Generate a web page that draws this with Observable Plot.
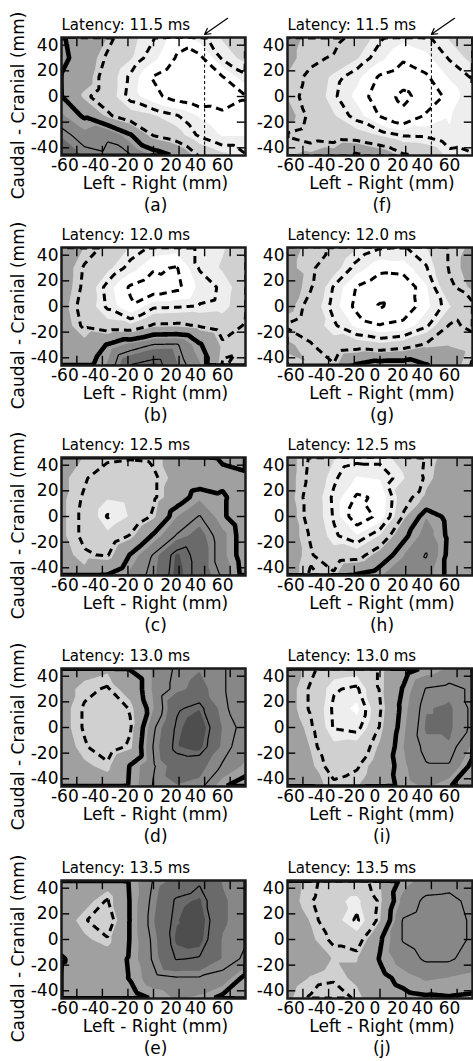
<!DOCTYPE html>
<html><head><meta charset="utf-8">
<script src="https://cdn.jsdelivr.net/npm/d3@7"></script>
<script src="https://cdn.jsdelivr.net/npm/@observablehq/plot@0.6"></script>
<style>
body{margin:0;background:#fff;}
#fig{position:relative;width:473px;height:1061px;overflow:hidden;font-family:"DejaVu Sans",sans-serif;}
#fig svg{position:absolute;overflow:visible;}
</style></head><body><div id="fig"></div>
<script>
// grid of electrode positions (mm)
const xGrid = [-72, -54, -36, -18, 0, 18, 36, 54, 72];
const yGrid = [46, 30, 15, 0, -15, -30, -46];
const xTicks = [-60, -40, -20, 0, 20, 40, 60];
const yTicks = [-40, -20, 0, 20, 40];
const latencies = ["11.5", "12.0", "12.5", "13.0", "13.5"];
const lettersLeft = ["a", "b", "c", "d", "e"];
const lettersRight = ["f", "g", "h", "i", "j"];
const negLevels = [-4, -3, -2, -1];
const zeroLevel = [0];
const posLevels = [1, 2, 3];
const fillThresholds = [-10, -2.45, -1.65, -0.78, 0.42, 1.33, 2.23];
const fillGrays = ["#ffffff", "#eeeeee", "#d0d0d0", "#a0a0a0", "#878787", "#6a6a6a", "#4e4e4e"];
const markerX = [40];
const arrowSeg = [{x1: 58, y1: 61, x2: 40, y2: 48.5}];

// field values (rows: y = 46 ... -46, cols: x = -72 ... 72)
const panelA = [
 [ 0.1, -0.5, -0.8, -1.5, -1.95, -2.8, -2.2, -1.6, -1.3],
 [ 0.2, -0.4, -1.1, -1.6, -2.3, -3.05, -3.2, -1.9, -1.5],
 [-0.05, -0.5, -1.3, -2.1, -3.05, -3.5, -3.6, -3.05, -2.1],
 [ 0.02, -0.9, -1.3, -2.2, -2.8, -3.3, -3.6, -3.5, -3.05],
 [ 0.5, -0.1, -0.9, -1.4, -1.6, -1.95, -2.5, -2.8, -2.8],
 [ 1.3, 0.6, 0.95, 0.05, -1.05, -1.4, -2.1, -2.5, -2.5],
 [ 1.6, 1.3, 1.1, 1.05, 0.4, -0.1, -1.05, -1.5, -1.95]];
const panelB = [
 [-0.5, -0.8, -1.1, -1.7, -2.1, -2.2, -1.95, -1.7, -1.3],
 [-0.5, -1.05, -1.5, -2.2, -2.9, -3.05, -1.95, -1.6, -1.2],
 [-0.5, -1.1, -2.2, -3.1, -3.5, -3.2, -2.3, -1.9, -1.3],
 [-0.6, -1.2, -2.1, -2.9, -2.1, -2.05, -1.95, -1.85, -1.2],
 [-0.5, -1.1, -1.4, -1.5, -0.9, -0.85, -1.05, -1.3, -0.95],
 [-0.3, -0.6, 0.05, 0.6, 1.05, 1.1, 0.1, -0.9, -0.95],
 [-0.2, -0.3, 0.5, 2.05, 2.4, 1.4, 0.5, -1.05, -0.8]];
const panelC = [
 [-0.6, -0.8, -0.9, -0.95, -0.9, -0.6, -0.3, 0.1, 0.2],
 [-0.7, -0.95, -1.3, -1.4, -1.1, -0.6, -0.4, -0.2, -0.1],
 [-0.7, -1.05, -1.6, -1.5, -1.1, -0.4, 0.3, 0.1, -0.4],
 [-0.7, -1.1, -2.05, -1.6, -0.9, 0.4, 1.05, 0.1, -0.5],
 [-0.7, -1.1, -1.5, -0.95, 0.1, 1.05, 1.6, 0.6, -0.4],
 [-0.6, -0.95, -1.05, 0.05, 1.05, 2.3, 1.8, 0.6, -0.4],
 [-0.5, -0.6, 0.05, 0.6, 1.2, 2.4, 1.8, 0.9, -0.3]];
const panelD = [
 [-0.5, -0.6, -0.7, 0.05, 0.5, 1.1, 1.3, 1.05, 0.7],
 [-0.6, -0.9, -1.05, -0.5, 0.5, 1.2, 1.5, 1.05, 0.7],
 [-0.6, -1.05, -1.4, -0.95, 0.4, 1.9, 2.2, 1.1, 0.7],
 [-0.6, -1.05, -1.5, -1.05, 0.9, 2.1, 2.6, 1.3, 0.8],
 [-0.5, -0.95, -1.3, -0.9, 1.05, 2.2, 2.4, 1.2, 0.7],
 [-0.5, -0.7, -0.9, 0.05, 0.95, 1.6, 1.5, 0.95, 0.3],
 [-0.3, -0.5, -0.5, 0.1, 1.05, 1.3, 1.2, 0.05, -0.3]];
const panelE = [
 [-0.5, -0.6, -0.5, 0.1, 1.05, 1.5, 1.9, 1.3, 1.05],
 [-0.5, -0.6, -1.05, 0.05, 1.2, 2.1, 2.3, 1.4, 1.1],
 [-0.5, -0.95, -1.4, 0.05, 1.3, 2.2, 2.5, 1.4, 1.1],
 [-0.5, -0.7, -0.95, 0.05, 1.15, 2.3, 2.4, 1.3, 1.05],
 [ 0.1, -0.5, -0.5, 0.1, 1.1, 2.05, 1.95, 1.3, 0.9],
 [-0.4, -0.5, -0.4, 0.05, 0.8, 0.95, 0.95, 0.8, -0.2],
 [-0.3, -0.4, -0.4, -0.3, 0.05, 0.5, 0.3, -0.2, -0.6]];
const panelF = [
 [-0.6, -0.9, -0.8, -1.2, -1.9, -2.3, -2.1, -1.6, -1.2],
 [-0.7, -0.9, -1.05, -1.6, -2.3, -2.9, -2.6, -1.95, -1.5],
 [-0.8, -1.1, -1.8, -2.3, -3.1, -3.4, -3.1, -2.4, -1.95],
 [-0.8, -1.2, -1.9, -2.6, -3.4, -4.3, -3.5, -2.8, -2.05],
 [-0.6, -1.1, -1.6, -2.2, -3.05, -3.7, -2.9, -2.5, -2.05],
 [-1.05, -1.2, -1.3, -1.4, -1.7, -2.05, -2.1, -2.4, -2.3],
 [-0.8, -0.7, -0.5, 0.1, -0.3, -0.9, -1.1, -1.8, -1.95]];
const panelG = [
 [-0.6, -0.9, -1.05, -1.6, -1.95, -2.05, -1.7, -0.95, -0.7],
 [-0.7, -0.9, -1.4, -2.2, -2.8, -2.7, -2.05, -0.95, -0.6],
 [-0.5, -0.95, -2.05, -3.05, -3.5, -3.6, -2.5, -1.1, -0.7],
 [-0.6, -1.2, -2.2, -3.2, -4.1, -3.5, -2.6, -1.7, -1.1],
 [-1.05, -1.3, -1.9, -2.6, -2.95, -2.8, -2.1, -0.95, -1.05],
 [-0.7, -0.95, -1.4, -1.3, -1.5, -1.3, -0.9, -0.8, -0.9],
 [-0.9, -0.8, -0.95, 0.1, 0.4, 0.4, 0.05, -0.5, -1.05]];
const panelH = [
 [-0.6, -1.05, -1.6, -1.8, -1.8, -1.5, -0.95, -0.6, -0.4],
 [-0.6, -1.1, -1.9, -2.5, -2.4, -1.7, -0.9, -0.5, -0.3],
 [-0.6, -1.2, -2.1, -3.1, -2.9, -1.2, -0.7, -0.3, -0.2],
 [-0.5, -1.2, -2.05, -3.5, -2.8, -0.95, 0.4, -0.2, -0.4],
 [-0.5, -1.05, -1.9, -2.4, -1.6, -0.2, 0.7, -0.15, -0.4],
 [-0.5, -0.95, -1.4, -1.3, -0.5, 0.4, 1.05, -0.2, -0.4],
 [-0.5, -1.05, -0.9, 0.1, 0.4, 0.6, 0.7, -0.2, -0.4]];
const panelI = [
 [-0.6, -0.9, -1.3, -1.4, -0.95, -0.3, 0.1, 0.5, 0.5],
 [-0.6, -1.05, -1.95, -2.1, -0.95, 0.05, 1.05, 1.2, 0.9],
 [-0.6, -1.05, -2.1, -2.6, -1.05, 0.2, 1.3, 1.4, 0.9],
 [-0.5, -0.9, -2.05, -2.2, -0.95, 0.3, 1.4, 1.4, 0.9],
 [-0.4, -0.8, -1.5, -1.4, -0.7, 0.4, 1.2, 1.3, 0.3],
 [-0.4, -0.7, -1.2, -1.05, -0.5, 0.3, 0.95, 0.95, -0.2],
 [-0.3, -0.6, -0.9, -0.8, -0.4, 0.2, 0.5, 0.05, -0.6]];
const panelJ = [
 [-0.6, -0.9, -1.2, -1.2, -0.8, 0.2, 0.6, 0.7, 0.5],
 [-0.6, -0.95, -1.5, -1.8, -0.9, 0.6, 1.15, 1.2, 0.8],
 [-0.5, -0.8, -1.4, -2.1, -0.8, 1.05, 1.3, 1.3, 0.9],
 [-0.5, -0.7, -1.1, -1.3, -0.1, 1.05, 1.3, 1.3, 0.9],
 [-0.5, -0.6, -0.8, -0.8, 0.05, 0.7, 1.1, 1.1, 0.7],
 [-0.6, -0.8, -0.9, -0.7, -0.2, 0.2, 0.5, 0.4, 0.3],
 [-0.7, -1.05, -1.4, -0.9, -0.4, -0.2, -0.1, -0.05, -0.1]];

const leftPanels = [panelA, panelB, panelC, panelD, panelE];
const rightPanels = [panelF, panelG, panelH, panelI, panelJ];

// layout
const xDomain = [-72, 72], yDomain = [-46, 46];
const frameTops = [37, 247, 457, 668, 880];
const cols = [{left: 0, width: 250, ml: 61, mr: 5}, {left: 247, width: 226, ml: 40, mr: 1}];
const MT = 37, MB = 58, H = 37 + 118 + 58;
const ext = {x1: -82, x2: 82, y1: -56, y2: 56};
const xTickLen = 7.2, yTickLen = 6.4;
const xTickDx = [-12, -7, -3, -5, -8, -9, -7.5];
const fmt = d => String(d);

function makePanel(values, row, colIdx, letter) {
  const data = [];
  yGrid.forEach((y, i) => xGrid.forEach((x, j) => data.push({x, y, v: values[i][j]})));
  const c = cols[colIdx];
  const base = {x: "x", y: "y", interpolate: "barycentric", pixelSize: 1, ...ext, clip: true};
  const marks = [
    Plot.contour(data, {...base, fill: "v", thresholds: fillThresholds, stroke: "none"}),
    Plot.contour(data, {...base, value: "v", thresholds: negLevels, fill: "none", stroke: "#000", strokeWidth: 3, strokeDasharray: "7.5,5"}),
    Plot.contour(data, {...base, value: "v", thresholds: posLevels, fill: "none", stroke: "#000", strokeWidth: 1.2}),
    Plot.contour(data, {...base, value: "v", thresholds: zeroLevel, fill: "none", stroke: "#000", strokeWidth: 4.6})
  ];
  if (row === 0) {
    marks.push(Plot.ruleX(markerX, {stroke: "#000", strokeWidth: 1, strokeDasharray: "3,2.5"}));
    marks.push(Plot.arrow(arrowSeg, {x1: "x1", y1: "y1", x2: "x2", y2: "y2", stroke: "#000", strokeWidth: 1.2, headLength: 8}));
  }
  marks.push(
    Plot.ruleX(xTicks, {y1: yDomain[0], y2: yDomain[0] + xTickLen, stroke: "#000", strokeWidth: 1.4}),
    Plot.ruleX(xTicks, {y1: yDomain[1], y2: yDomain[1] - xTickLen, stroke: "#000", strokeWidth: 1.4}),
    Plot.ruleY(yTicks, {x1: xDomain[0], x2: xDomain[0] + yTickLen, stroke: "#000", strokeWidth: 1.4}),
    Plot.ruleY(yTicks, {x1: xDomain[1], x2: xDomain[1] - yTickLen, stroke: "#000", strokeWidth: 1.4}),
    Plot.frame({stroke: "#1a1a1a", strokeWidth: 2.5}),
    ...xTicks.map((t, i) => Plot.axisX({ticks: [t], tickFormat: fmt, tickSize: 0, tickPadding: 3, label: null, fontSize: 17, dx: xTickDx[i], fill: "#000"})),
    Plot.axisY({ticks: yTicks, tickFormat: fmt, tickSize: 0, tickPadding: 3, label: null, fontSize: 17, fill: "#000"}),
    Plot.text([`Latency: ${latencies[row]} ms`], {frameAnchor: "top-left", textAnchor: "start", lineAnchor: "bottom", dy: -8, fontSize: 15, fill: "#000"}),
    Plot.text(["Left - Right (mm)"], {frameAnchor: "bottom", textAnchor: "middle", lineAnchor: "bottom", dy: 33, dx: 2, fontSize: 17, fill: "#000"}),
    Plot.text([`(${letter})`], {frameAnchor: "bottom", textAnchor: "middle", lineAnchor: "bottom", dy: 55, dx: 2, fontSize: 17, fill: "#000"})
  );
  if (colIdx === 0) {
    marks.push(Plot.text(["Caudal - Cranial (mm)"], {frameAnchor: "left", textAnchor: "middle", lineAnchor: "middle", rotate: -90, dx: -43, dy: 9, fontSize: 17, fill: "#000"}));
  }
  const svg = Plot.plot({
    width: c.width, height: H,
    marginTop: MT, marginBottom: MB, marginLeft: c.ml, marginRight: c.mr,
    x: {domain: xDomain},
    y: {domain: yDomain},
    color: {type: "ordinal", domain: fillThresholds, range: fillGrays},
    style: {fontFamily: "DejaVu Sans, sans-serif", fontSize: "17px", background: "transparent", color: "#000", overflow: "visible"},
    marks
  });
  svg.style.left = c.left + "px";
  svg.style.top = (frameTops[row] - MT) + "px";
  svg.style.maxWidth = "none";
  document.getElementById("fig").appendChild(svg);
}

leftPanels.forEach((p, r) => makePanel(p, r, 0, lettersLeft[r]));
rightPanels.forEach((p, r) => makePanel(p, r, 1, lettersRight[r]));
</script></body></html>
